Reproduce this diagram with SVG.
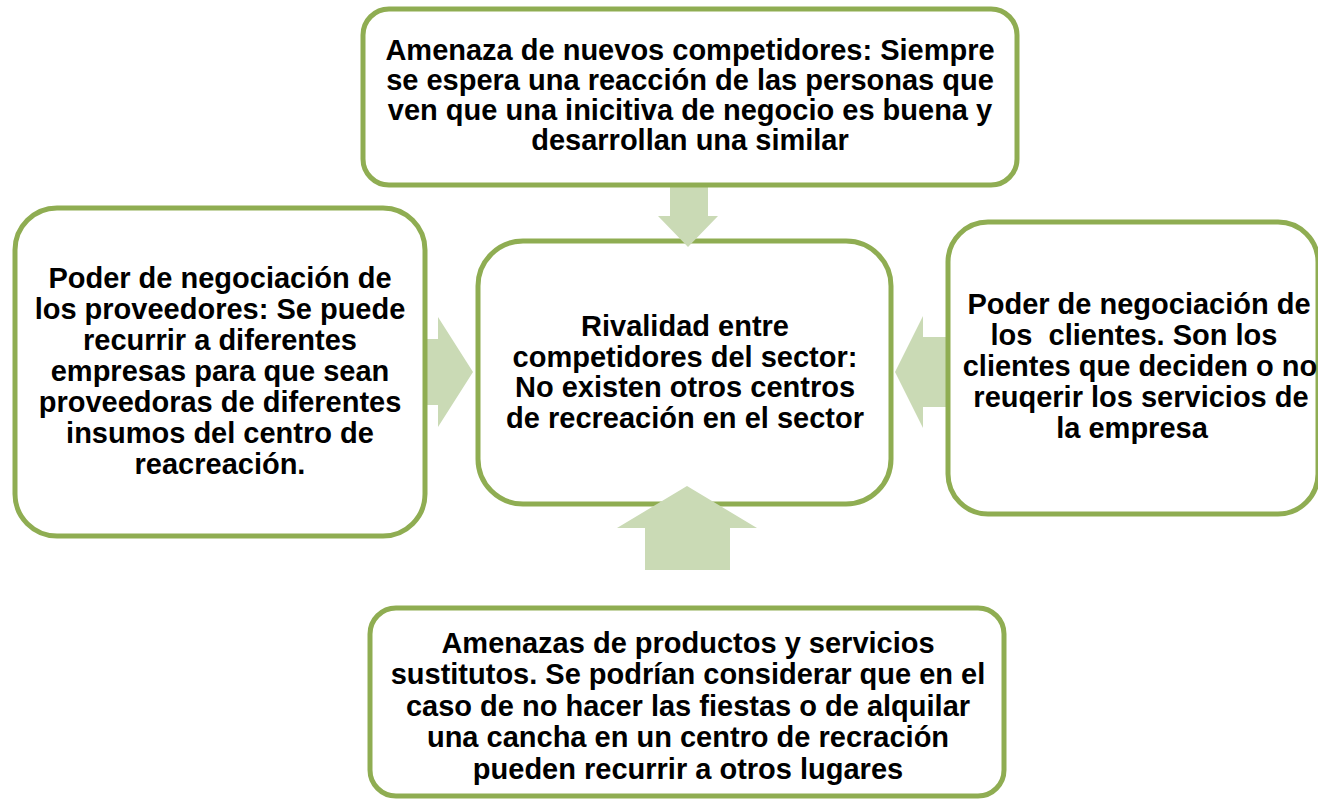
<svg xmlns="http://www.w3.org/2000/svg" width="1318" height="799" viewBox="0 0 1318 799">
<style>
.box{fill:#ffffff;stroke:#8fad52;stroke-width:5}
.arrow{fill:#cadab5;stroke:none}
text{font-family:"Liberation Sans",Arial,sans-serif;font-weight:bold;font-size:29px;fill:#000000;text-anchor:middle;white-space:pre}
</style>
<rect x="0" y="0" width="1318" height="799" fill="#ffffff"/>
<g id="center">
<rect class="box" x="478" y="241" width="413" height="263" rx="45" ry="45"/>
<text x="685" y="336">Rivalidad entre</text>
<text x="685" y="367">competidores del sector:</text>
<text x="685" y="397">No existen otros centros</text>
<text x="685" y="428">de recreación en el sector</text>
</g>
<g id="connectors">
<polygon class="arrow" points="670,180 708,180 708,216 718,216 688,247 658,216 670,216"/>
<polygon class="arrow" points="420,339 438,339 438,317 473,372 438,427 438,405 420,405"/>
<polygon class="arrow" points="952,337 923,337 923,316 895,372 923,428 923,407 952,407"/>
<polygon class="arrow" points="687,486 757,528 730,528 730,570 645,570 645,528 617,528"/>
</g>
<g id="top">
<rect class="box" x="363" y="9" width="654" height="176" rx="26" ry="26"/>
<text x="690" y="60">Amenaza de nuevos competidores: Siempre</text>
<text x="690" y="90">se espera una reacción de las personas que</text>
<text x="690" y="120">ven que una inicitiva de negocio es buena y</text>
<text x="690" y="150">desarrollan una similar</text>
</g>
<g id="left">
<rect class="box" x="15" y="208" width="410" height="328" rx="42" ry="42"/>
<text x="220" y="288">Poder de negociación de</text>
<text x="220" y="319">los proveedores: Se puede</text>
<text x="220" y="350">recurrir a diferentes</text>
<text x="220" y="381">empresas para que sean</text>
<text x="220" y="412">proveedoras de diferentes</text>
<text x="220" y="443">insumos del centro de</text>
<text x="220" y="474">reacreación.</text>
</g>
<g id="right">
<rect class="box" x="948" y="222" width="370" height="292" rx="40" ry="40"/>
<text x="1139" y="314">Poder de negociación de</text>
<text x="1134" y="345">los  clientes. Son los</text>
<text x="1140" y="376">clientes que deciden o no</text>
<text x="1141" y="407">reuqerir los servicios de</text>
<text x="1132" y="438">la empresa</text>
</g>
<g id="bottom">
<rect class="box" x="370" y="608" width="634" height="188" rx="26" ry="26"/>
<text x="688" y="653">Amenazas de productos y servicios</text>
<text x="688" y="684">sustitutos. Se podrían considerar que en el</text>
<text x="688" y="716">caso de no hacer las fiestas o de alquilar</text>
<text x="688" y="747">una cancha en un centro de recración</text>
<text x="688" y="779">pueden recurrir a otros lugares</text>
</g>
</svg>
